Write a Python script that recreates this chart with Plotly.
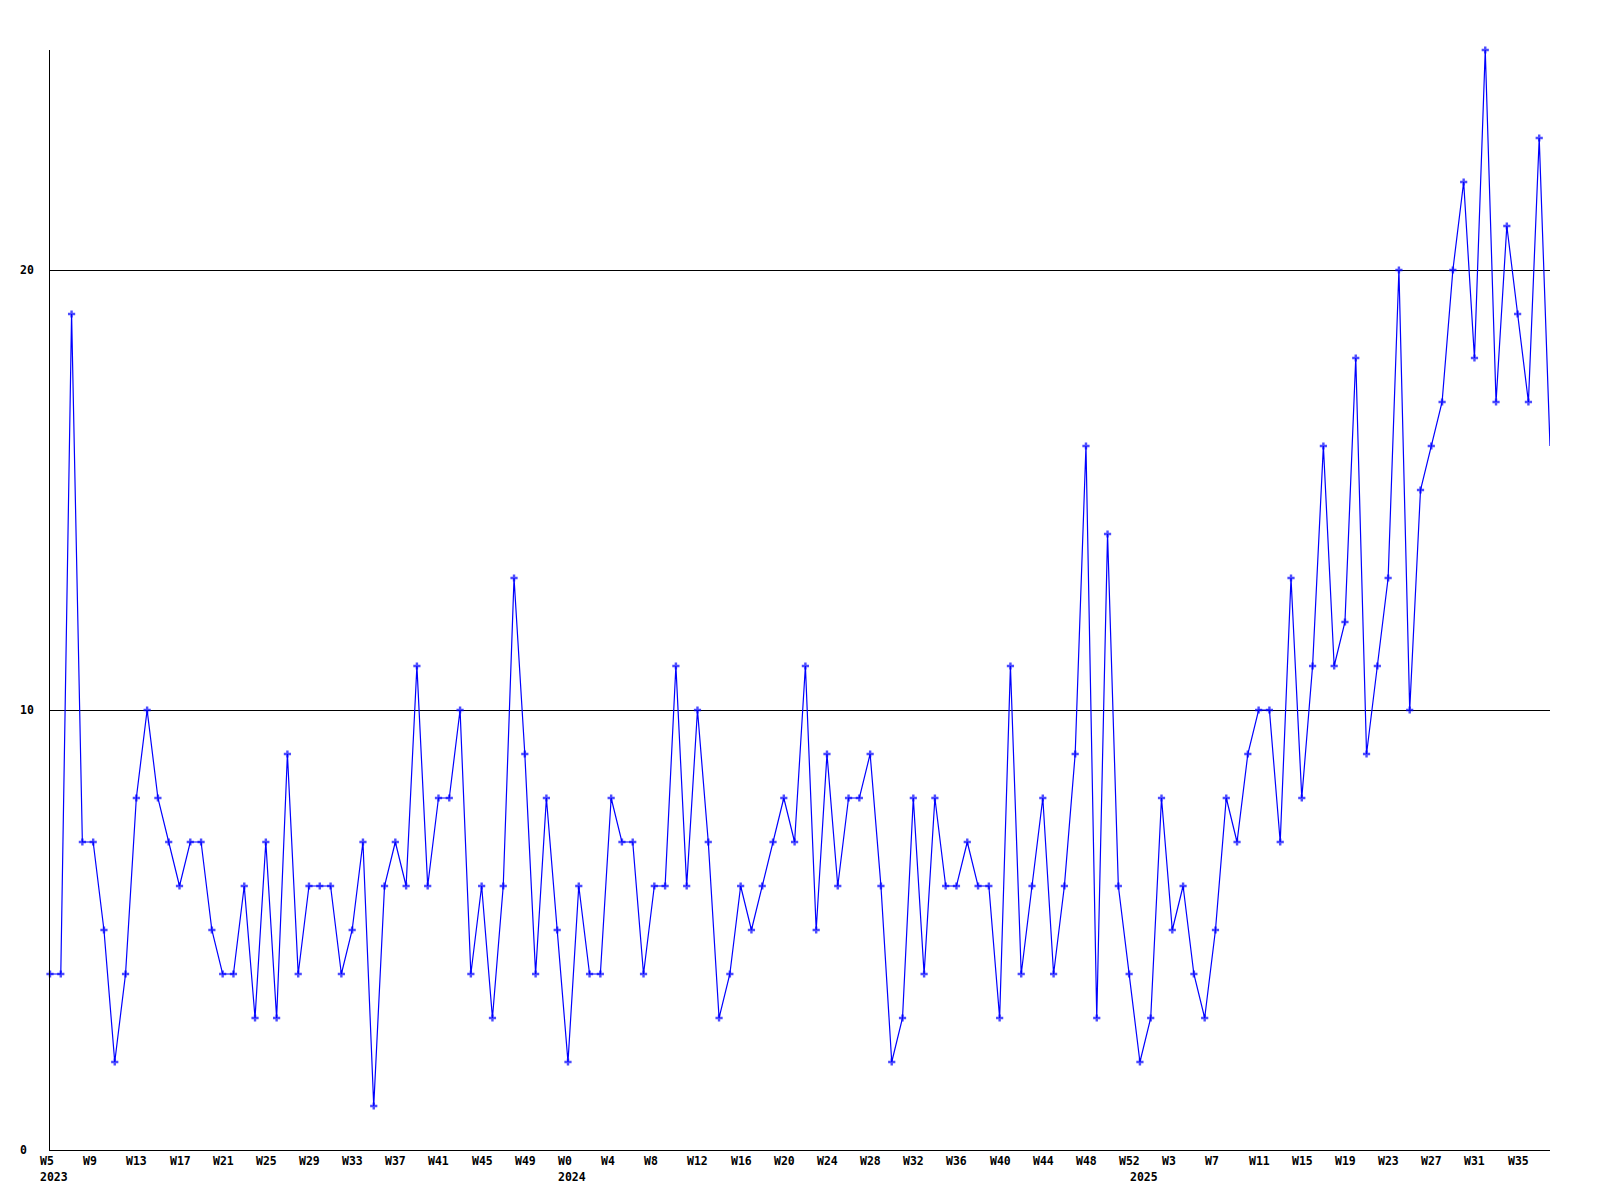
import plotly.graph_objects as go

# ---- data ----
years = ["2023", "2024", "2025"]
weeks_2023 = list(range(5, 53))
weeks_2024 = list(range(0, 53))
weeks_2025 = list(range(0, 39))

values = [
    4, 4, 19, 7, 7, 5, 2, 4, 8, 10,
    8, 7, 6, 7, 7, 5, 4, 4, 6, 3,
    7, 3, 9, 4, 6, 6, 6, 4, 5, 7,
    1, 6, 7, 6, 11, 6, 8, 8, 10, 4,
    6, 3, 6, 13, 9, 4, 8, 5, 2, 6,
    4, 4, 8, 7, 7, 4, 6, 6, 11, 6,
    10, 7, 3, 4, 6, 5, 6, 7, 8, 7,
    11, 5, 9, 6, 8, 8, 9, 6, 2, 3,
    8, 4, 8, 6, 6, 7, 6, 6, 3, 11,
    4, 6, 8, 4, 6, 9, 16, 3, 14, 6,
    4, 2, 3, 8, 5, 6, 4, 3, 5, 8,
    7, 9, 10, 10, 7, 13, 8, 11, 16, 11,
    12, 18, 9, 11, 13, 20, 10, 15, 16, 17,
    20, 22, 18, 25, 17, 21, 19, 17, 23, 16,
]

y_ticks = [0, 10, 20]
y_max = 25

# ---- build ----
week_nums = weeks_2023 + weeks_2024 + weeks_2025
year_of = [years[0]] * len(weeks_2023) + [years[1]] * len(weeks_2024) + [years[2]] * len(weeks_2025)
x_idx = list(range(len(values)))
n = len(values)

FONT = dict(family="DejaVu Sans Mono", size=11.5, color="black", weight="bold")

marker_sizes = [6] * (n - 1) + [0]

fig = go.Figure()
fig.add_trace(go.Scatter(
    x=x_idx, y=values, mode="lines+markers",
    line=dict(color="#0000ff", width=1.2),
    marker=dict(symbol="cross", size=marker_sizes, color="#0000ff",
                line=dict(width=0)),
    cliponaxis=False, showlegend=False, hoverinfo="skip",
))

annotations = []
for i in range(0, n, 4):
    annotations.append(dict(
        x=i, y=0, xref="x", yref="paper", text=f"W{week_nums[i]}",
        showarrow=False, xanchor="left", yanchor="middle",
        xshift=-12, yshift=-11, font=FONT,
    ))
for yr in years:
    i = year_of.index(yr)
    annotations.append(dict(
        x=i, y=0, xref="x", yref="paper", text=yr,
        showarrow=False, xanchor="left", yanchor="middle",
        xshift=-12, yshift=-27, font=FONT,
    ))
for t in y_ticks:
    annotations.append(dict(
        x=0, y=t, xref="paper", yref="y", text=str(t),
        showarrow=False, xanchor="left", yanchor="middle",
        xshift=-32, font=FONT,
    ))

# page body has an 8px default margin; shift the plot area to compensate
fig.update_layout(
    width=1600, height=1200,
    margin=dict(l=42, r=58, t=42, b=58),
    paper_bgcolor="white", plot_bgcolor="white",
    annotations=annotations,
    xaxis=dict(range=[0, n - 1], showgrid=False, zeroline=False,
               showline=True, linecolor="black", linewidth=1,
               showticklabels=False, ticks=""),
    yaxis=dict(range=[0, y_max], tickvals=y_ticks, showgrid=True,
               gridcolor="black", gridwidth=1, zeroline=False,
               showline=True, linecolor="black", linewidth=1,
               showticklabels=False, ticks=""),
)

fig.write_html("out.html")
